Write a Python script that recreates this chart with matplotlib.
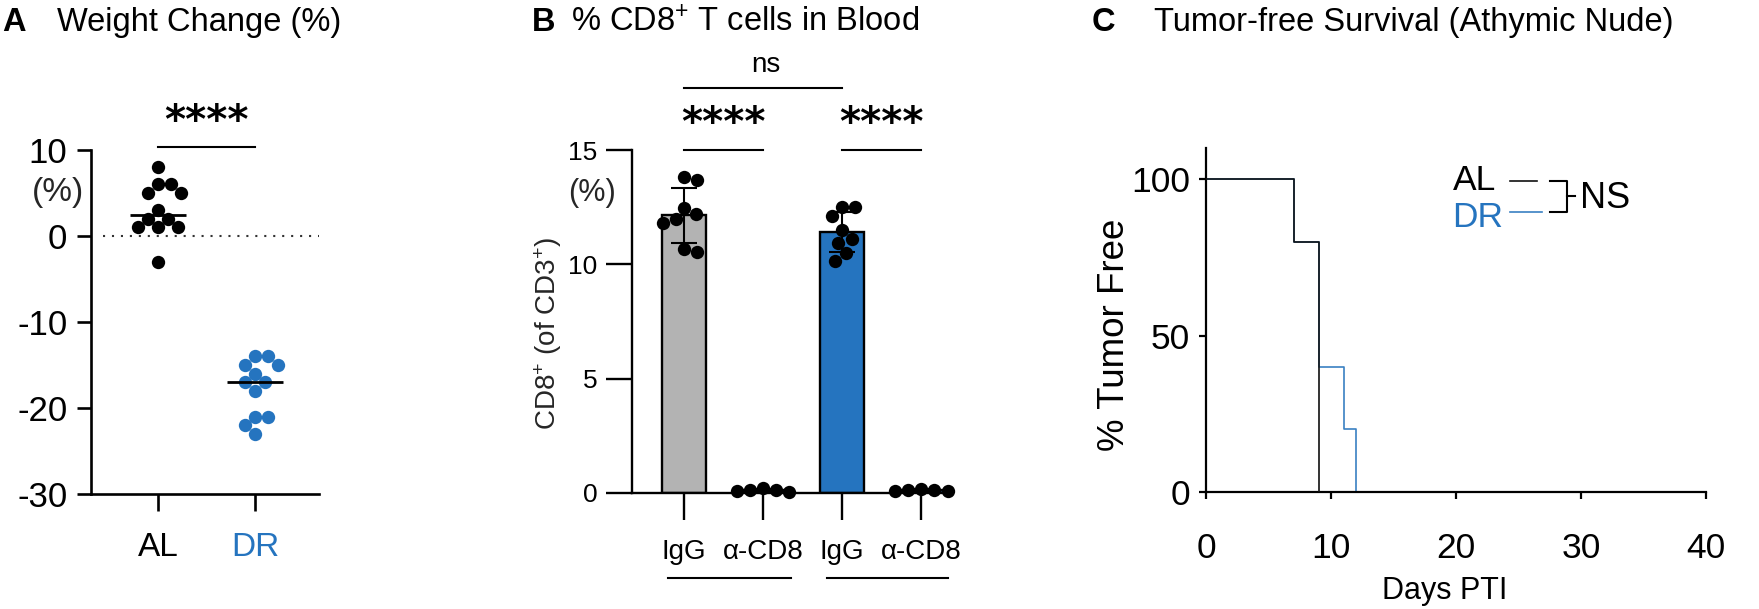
import numpy as np
import matplotlib
matplotlib.use('Agg')
import matplotlib.pyplot as plt
from matplotlib.lines import Line2D

plt.rcParams['font.family'] = ['Liberation Sans', 'DejaVu Sans']
plt.rcParams['mathtext.fontset'] = 'custom'
plt.rcParams['mathtext.rm'] = 'Liberation Sans'
plt.rcParams['mathtext.it'] = 'Liberation Sans:italic'
plt.rcParams['mathtext.bf'] = 'Liberation Sans:bold'
plt.rcParams['axes.unicode_minus'] = False

# ---------------- data ----------------
weight_groups = ['AL', 'DR']
weight_al = [8, 6, 6, 5, 5, 3, 2, 2, 1, 1, 1, -3]
weight_dr = [-14, -14, -15, -15, -16, -17, -17, -18, -21, -21, -22, -23]
weight_yticks = [-30, -20, -10, 0, 10]

cd8_labels = ['IgG', 'α-CD8', 'IgG', 'α-CD8']
cd8_igg_al = [13.8, 13.7, 12.0, 12.45, 12.2, 11.8, 10.55, 10.65]
cd8_anti_al = [0.2, 0.1, 0.15, 0.05, 0.12]
cd8_igg_dr = [12.5, 12.5, 12.1, 11.5, 11.1, 10.95, 10.5, 10.15]
cd8_anti_dr = [0.18, 0.1, 0.14, 0.08, 0.12]
cd8_yticks = [0, 5, 10, 15]

surv_al_days = [0, 7, 9]
surv_al_pct = [100, 80, 0]
surv_dr_days = [0, 7, 9, 11, 12]
surv_dr_pct = [100, 80, 40, 20, 0]
surv_xticks = [0, 10, 20, 30, 40]
surv_yticks = [0, 50, 100]

# ---------------- style ----------------
W, H = 1759, 609
BLUE = '#2574bf'
GREY = '#b3b3b3'
DARK = '#262626'
MS = 9.6
DOT_PX = 13.3

fig = plt.figure(figsize=(W / 100, H / 100), dpi=100)


def fx(x):
    return x / W


def fy(y):
    return 1 - y / H


def axes_px(l, t, r, b):
    return fig.add_axes([l / W, 1 - b / H, (r - l) / W, (b - t) / H])


def swarm(values, d_px, ypx):
    vals = np.asarray(values, dtype=float)
    order = np.argsort(-vals, kind='stable')
    placed = []
    offs = np.zeros(len(vals))
    for i in order:
        y = vals[i] * ypx
        cands = [0.0]
        for (px, py) in placed:
            dy = abs(py - y)
            if dy < d_px:
                dx = np.sqrt(d_px ** 2 - dy ** 2)
                cands += [px + dx, px - dx]
        cands.sort(key=abs)
        for c in cands:
            if all((c - px) ** 2 + (y - py) ** 2 >= d_px ** 2 - 1e-6 for px, py in placed):
                offs[i] = c
                placed.append((c, y))
                break
    return offs


def px_per_unit(ax):
    bb = ax.get_position()
    x0, x1 = ax.get_xlim()
    y0, y1 = ax.get_ylim()
    return bb.width * W / (x1 - x0), bb.height * H / (y1 - y0)


# ---------------- titles ----------------
title_fs = 23.5
for xl, letter, xt, txt in [(2, 'A', 57, 'Weight Change (%)'),
                             (532, 'B', 571, r'% CD8$^{+}$ T cells in Blood'),
                             (1092, 'C', 1154, 'Tumor-free Survival (Athymic Nude)')]:
    fig.text(fx(xl), fy(31), letter, fontsize=title_fs, fontweight='bold', ha='left', va='baseline')
    fig.text(fx(xt), fy(31), txt, fontsize=title_fs, ha='left', va='baseline')

# ---------------- panel A ----------------
axA = axes_px(91, 150, 319, 494)
axA.set_xlim(-0.69, 1.66)
axA.set_ylim(-30, 10)
xpx, ypx = px_per_unit(axA)
for i, (vals, col) in enumerate([(weight_al, 'black'), (weight_dr, BLUE)]):
    offs = swarm(vals, DOT_PX, ypx) / xpx
    axA.plot(i + offs, vals, 'o', ms=MS, color=col, mec='none', clip_on=False, zorder=3)
    axA.hlines(np.median(vals), i - 0.29, i + 0.29, color='black', lw=2.0, zorder=4)
axA.plot([-0.567, 1.66], [0, 0], color='#333333', lw=1.5, ls=(0, (1, 3.3)), zorder=1, clip_on=False)
axA.spines[['top', 'right']].set_visible(False)
for s in ['left', 'bottom']:
    axA.spines[s].set_linewidth(1.9)
axA.set_yticks(weight_yticks)
axA.set_yticklabels([str(v) for v in weight_yticks])
axA.set_xticks([0, 1])
axA.set_xticklabels(weight_groups)
axA.get_xticklabels()[1].set_color(BLUE)
axA.tick_params(axis='y', length=10, width=1.9, labelsize=25, pad=7)
axA.tick_params(axis='x', length=12, width=1.9, labelsize=24, pad=15)
axA.plot([0, 1], [10.35, 10.35], color='black', lw=1.5, clip_on=False)
axA.text(0.5, 11.95, '****', ha='center', va='baseline', fontsize=29, fontweight='bold',
         family='DejaVu Sans', clip_on=False)
fig.text(fx(58), fy(192), '(%)', ha='center', va='center', fontsize=24, color=DARK)

# ---------------- panel B ----------------
axB = axes_px(632, 150, 952, 493)
axB.set_xlim(-0.658, 3.392)
axB.set_ylim(0, 15)
xpx, ypx = px_per_unit(axB)
groups = [cd8_igg_al, cd8_anti_al, cd8_igg_dr, cd8_anti_dr]
colors = [GREY, GREY, BLUE, BLUE]
means = [np.mean(g) for g in groups]
sds = [np.std(g, ddof=1) for g in groups]
xs = np.arange(len(groups))
axB.bar(xs, means, width=0.545, color=colors, edgecolor='black', linewidth=1.7, zorder=2)
axB.errorbar(xs, means, yerr=sds, fmt='none', ecolor='black', elinewidth=1.5,
             capsize=9.7, capthick=1.5, zorder=3)
for i, g in enumerate(groups):
    offs = swarm(g, DOT_PX, ypx) / xpx
    axB.plot(i + offs, g, 'o', ms=MS, color='black', mec='none', clip_on=False, zorder=4)
axB.spines[['top', 'right']].set_visible(False)
for s in ['left', 'bottom']:
    axB.spines[s].set_linewidth(1.7)
axB.set_yticks(cd8_yticks)
axB.set_xticks(xs)
axB.set_xticklabels(cd8_labels)
axB.tick_params(axis='y', length=18.7, width=1.7, labelsize=19, pad=6)
axB.tick_params(axis='x', length=19.4, width=1.7, labelsize=20, pad=14)
# significance
axB.plot([0, 2], [17.7, 17.7], color='black', lw=1.5, clip_on=False)
axB.text(1.04, 18.4, 'ns', ha='center', va='baseline', fontsize=20, clip_on=False)
for a, b in [(0, 1), (2, 3)]:
    axB.plot([a, b], [15.0, 15.0], color='black', lw=1.5, clip_on=False)
    axB.text((a + b) / 2, 15.65, '****', ha='center', va='baseline', fontsize=29,
             fontweight='bold', family='DejaVu Sans', clip_on=False)
# group underlines
trB = axB.get_xaxis_transform()
for a, b in [(-0.2, 1.35), (1.81, 3.34)]:
    axB.plot([a, b], [-0.248, -0.248], transform=trB, color='black', lw=1.5, clip_on=False)
fig.text(fx(548), fy(333), r'CD8$^{+}$ (of CD3$^{+}$)', rotation=90, ha='center', va='center',
         fontsize=20, color=DARK)
fig.text(fx(592), fy(193), '(%)', ha='center', va='center', fontsize=22, color=DARK)

# ---------------- panel C ----------------
axC = axes_px(1206, 148, 1706, 492)
axC.set_xlim(0, 40)
axC.set_ylim(0, 110)
axC.step(surv_dr_days, surv_dr_pct, where='post', color='#3a80c2', lw=1.2, zorder=2)
axC.step(surv_al_days, surv_al_pct, where='post', color='#111111', lw=1.2, zorder=3)
axC.spines[['top', 'right']].set_visible(False)
for s in ['left', 'bottom']:
    axC.spines[s].set_linewidth(1.6)
axC.set_xticks(surv_xticks)
axC.set_yticks(surv_yticks)
axC.tick_params(axis='both', length=5, width=1.6, labelsize=25.5)
axC.tick_params(axis='y', pad=6.5)
axC.tick_params(axis='x', pad=24)
fig.text(fx(1445), fy(591), 'Days PTI', ha='center', va='center', fontsize=22)
fig.text(fx(1115), fy(335), '% Tumor Free', rotation=90, ha='center', va='center', fontsize=26.5)

# legend with bracket
fig.text(fx(1453), fy(190), 'AL', ha='left', va='baseline', fontsize=25.5, color='black')
fig.text(fx(1452), fy(227), 'DR', ha='left', va='baseline', fontsize=25.5, color=BLUE)
fig.add_artist(Line2D([fx(1510), fx(1537)], [fy(181), fy(181)], transform=fig.transFigure,
                      color='#111111', lw=1.2))
fig.add_artist(Line2D([fx(1510), fx(1542)], [fy(212), fy(212)], transform=fig.transFigure,
                      color='#3a80c2', lw=1.2))
fig.add_artist(Line2D([fx(1550), fx(1567), fx(1567), fx(1550)],
                      [fy(181), fy(181), fy(212), fy(212)], transform=fig.transFigure,
                      color='black', lw=1.5))
fig.add_artist(Line2D([fx(1567), fx(1575)], [fy(196), fy(196)], transform=fig.transFigure,
                      color='black', lw=1.5))
fig.text(fx(1580), fy(208), 'NS', ha='left', va='baseline', fontsize=26)

fig.savefig('out.png', dpi=100)
